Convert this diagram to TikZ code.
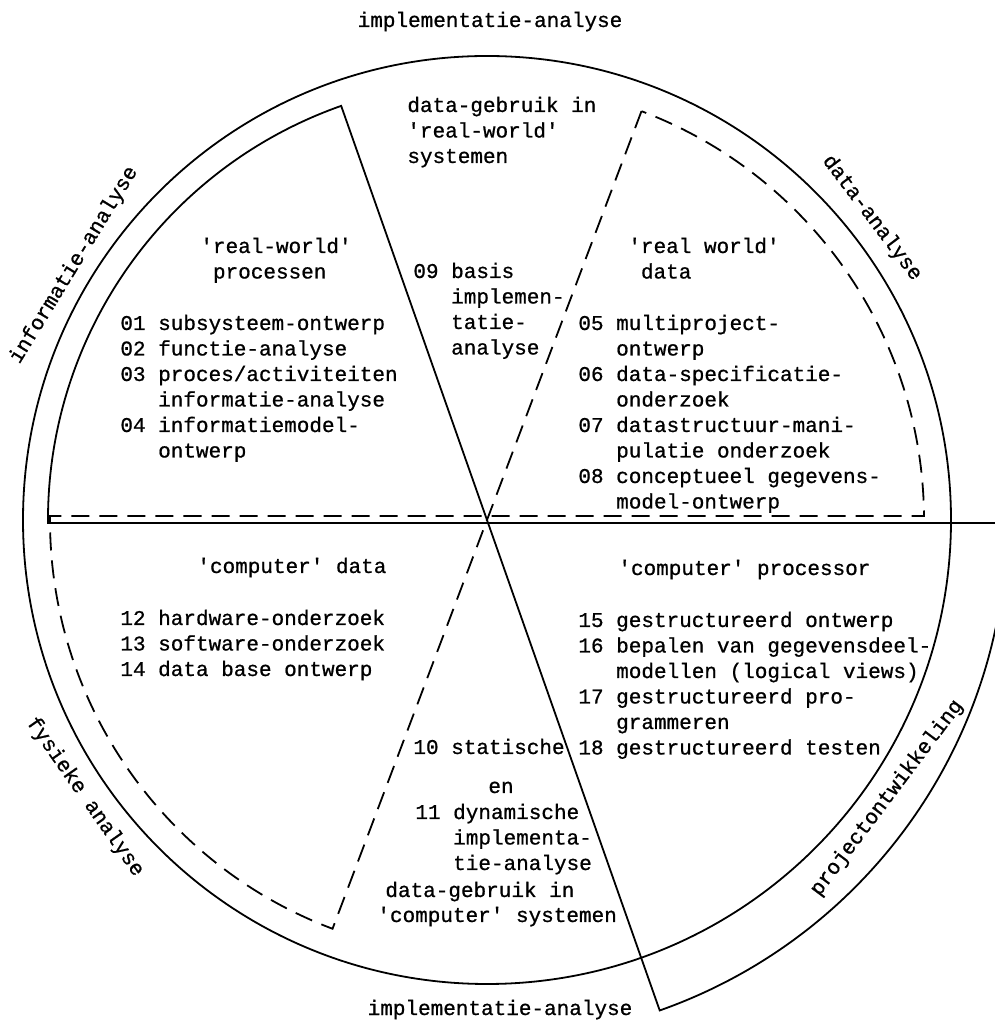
\documentclass[tikz,border=0pt]{standalone}
\usepackage{fontspec}
\setmonofont{Liberation Mono}[FakeBold=0.8]
\usetikzlibrary{calc}
\newcommand\tw{\fontsize{10.5}{12.75}\selectfont\ttfamily}
\newcommand\blk[1]{\begin{tabular}[t]{@{}l@{}}#1\end{tabular}}
\newcommand\ind[1]{\hphantom{#1}}
\begin{document}
\begin{tikzpicture}[x=0.5pt,y=0.5pt,
  txt/.style={inner sep=0pt,anchor=base west,font=\tw},
  lbl/.style={inner sep=0pt,font=\tw},
  ln/.style={line width=0.9pt},
  dsh/.style={line width=0.9pt,dash pattern=on 9pt off 5pt}]
\useasboundingbox (0,0) rectangle (995,1023);
\clip (0,0) rectangle (995,1023);
\coordinate (C) at (487,503);
% outer circle
\draw[ln] (C) circle[radius=464];
% solid bow-tie
\draw[ln] ($(C)+(109.4:439)$) -- ($(C)+(-70.6:520)$)
  arc[start angle=-70.6,end angle=-0.33,radius=520]
  -- ($(C)+(-439,-3)$)
  arc[start angle=180.4,end angle=109.4,radius=439] -- cycle;
% dashed bow-tie
\draw[dsh] ($(C)+(69.3:437)$) -- ($(C)+(-110.7:437)$)
  arc[start angle=-110.7,end angle=-180,radius=437]
  -- ++(0,4) -- ($(C)+(437,4)$)
  arc[start angle=0.52,end angle=69.3,radius=437];
% texts
\node[txt] (t1) at (407,911) {\blk{data-gebruik in\\'real-world'\\systemen}};
\node[txt] (t2) at (200,770) {\blk{'real-world'\\\ind{0}processen}};
\node[txt] (t3) at (413,745) {\blk{09 basis\\\ind{000}implemen-\\\ind{000}tatie-\\\ind{000}analyse}};
\node[txt] (t4) at (628,770) {\blk{'real world'\\\ind{0}data}};
\node[txt] (t5) at (120,693) {\blk{01 subsysteem-ontwerp\\02 functie-analyse\\03 proces/activiteiten\\\ind{000}informatie-analyse\\04 informatiemodel-\\\ind{000}ontwerp}};
\node[txt] (t6) at (578,693) {\blk{05 multiproject-\\\ind{000}ontwerp\\06 data-specificatie-\\\ind{000}onderzoek\\07 datastructuur-mani-\\\ind{000}pulatie onderzoek\\08 conceptueel gegevens-\\\ind{000}model-ontwerp}};
\node[txt] (t7) at (197,450) {'computer' data};
\node[txt] (t8) at (120,398) {\blk{12 hardware-onderzoek\\13 software-onderzoek\\14 data base ontwerp}};
\node[txt] (t9) at (618,448) {'computer' processor};
\node[txt] (t10) at (578,396) {\blk{15 gestructureerd ontwerp\\16 bepalen van gegevensdeel-\\\ind{000}modellen (logical views)\\17 gestructureerd pro-\\\ind{000}grammeren\\18 gestructureerd testen}};
\node[txt] (t11) at (413,269) {10 statische};
\node[txt] (t12) at (488,230) {en};
\node[txt] (t13) at (415,204) {\blk{11 dynamische\\\ind{000}implementa-\\\ind{000}tie-analyse}};
\node[txt] (t14) at (385,126) {data-gebruik in};
\node[txt] (t15) at (377,101) {'computer' systemen};
% outer labels
\node[lbl,anchor=base] (top) at (490,996) {implementatie-analyse};
\node[lbl,anchor=base] (bot) at (500,8) {implementatie-analyse};
\node[lbl,rotate=58.5] (ia) at (74,758) {informatie-analyse};
\node[lbl,rotate=-53] (da) at (872,805) {data-analyse};
\node[lbl,rotate=-55] (fa) at (85,226) {fysieke analyse};
\node[lbl,rotate=53] (pa) at (887,225) {projectontwikkeling};
\end{tikzpicture}
\end{document}
